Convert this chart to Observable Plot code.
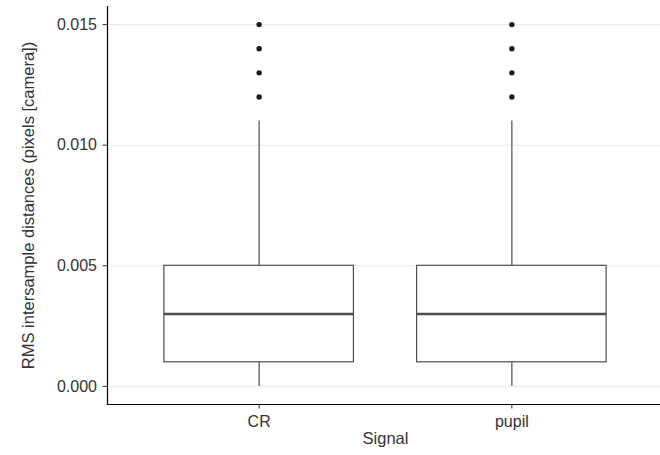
<!DOCTYPE html>
<html><head><meta charset="utf-8">
<script src="https://cdn.jsdelivr.net/npm/d3@7"></script>
<script src="https://cdn.jsdelivr.net/npm/@observablehq/plot@0.6"></script>
<style>
html,body{margin:0;padding:0;background:#fff;}
#chart svg{font-family:"Liberation Sans",Arial,sans-serif !important;font-size:16px !important;}
#chart svg g[aria-label="y-axis label"] text, #chart svg g[aria-label="x-axis label"] text{font-size:16.5px;}
</style></head>
<body><div id="chart"></div>
<script>
const categories = ["CR", "pupil"];
const whiskerLow = [0.000, 0.000];
const q1 = [0.001, 0.001];
const median = [0.003, 0.003];
const q3 = [0.005, 0.005];
const whiskerHigh = [0.011, 0.011];
const outliers = [[0.012, 0.013, 0.014, 0.015], [0.012, 0.013, 0.014, 0.015]];
const yTicks = [0.000, 0.005, 0.010, 0.015];

const boxes = categories.map((c, i) => ({signal: c, lo: whiskerLow[i], q1: q1[i], med: median[i], q3: q3[i], hi: whiskerHigh[i]}));
const outs = categories.flatMap((c, i) => outliers[i].map(v => ({signal: c, value: v})));

const ymin = d3.min([...whiskerLow, ...outliers.flat()]);
const ymax = d3.max([...whiskerHigh, ...outliers.flat()]);
const pad = (ymax - ymin) * 0.05;

const chart = Plot.plot({
  width: 660, height: 455,
  marginLeft: 107, marginRight: -3, marginTop: 6, marginBottom: 51,
  x: {type: "band", domain: categories, paddingInner: 0.25, paddingOuter: 0.225, round: false},
  y: {domain: [ymin - pad, ymax + pad]},
  marks: [
    Plot.gridY(yTicks, {stroke: "#ebebeb", strokeOpacity: 1, strokeWidth: 1.1}),
    Plot.ruleX(boxes, {x: "signal", y1: "lo", y2: "q1", stroke: "#4d4d4d", strokeWidth: 1.2}),
    Plot.ruleX(boxes, {x: "signal", y1: "q3", y2: "hi", stroke: "#4d4d4d", strokeWidth: 1.2}),
    Plot.barY(boxes, {x: "signal", y1: "q1", y2: "q3", fill: "white", stroke: "#4d4d4d", strokeWidth: 1.2}),
    Plot.tickY(boxes, {x: "signal", y: "med", stroke: "#4d4d4d", strokeWidth: 2.6}),
    Plot.dot(outs, {x: "signal", y: "value", r: 2.7, fill: "#1a1a1a", stroke: "none"}),
    Plot.frame({anchor: "left", stroke: "#000", strokeWidth: 1.2}),
    Plot.frame({anchor: "bottom", stroke: "#000", strokeWidth: 1.2}),
    Plot.axisY(yTicks, {tickFormat: d3.format(".3f"), tickSize: 4.5, tickPadding: 6, color: "#333", stroke: "#333",
      label: "RMS intersample distances (pixels [camera])", labelAnchor: "center", labelOffset: 85, labelArrow: "none"}),
    Plot.axisX({tickSize: 4.5, tickPadding: 7, color: "#333", stroke: "#333",
      label: "Signal", labelAnchor: "center", labelOffset: 39, labelArrow: "none"})
  ]
});
document.getElementById("chart").appendChild(chart);
</script></body></html>
